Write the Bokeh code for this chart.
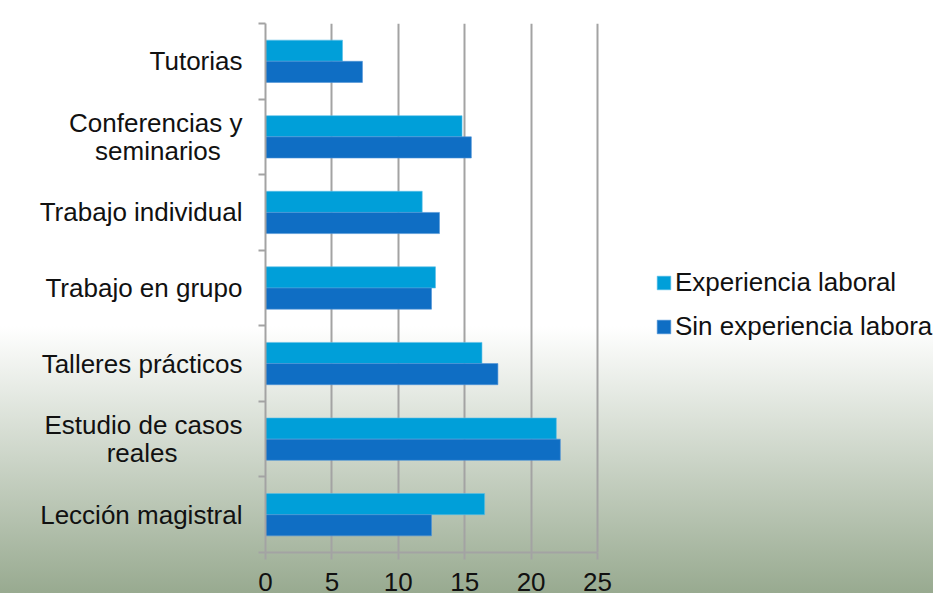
from bokeh.plotting import figure
from bokeh.models import Range1d, FixedTicker, ColumnDataSource, Legend, LegendItem
from bokeh.embed import file_html
from bokeh.resources import INLINE

NB = "\u00a0"
categories = ["Tutorias", "Conferencias y\nseminarios" + NB * 3, "Trabajo individual",
              "Trabajo en grupo", "Talleres prácticos", "Estudio de casos\nreales" + NB * 9,
              "Lección magistral"]
experiencia = [5.8, 14.8, 11.8, 12.8, 16.3, 21.9, 16.5]
sin_experiencia = [7.3, 15.5, 13.1, 12.5, 17.5, 22.2, 12.5]
series_names = ["Experiencia laboral", "Sin experiencia laboral"]
x_ticks = [0, 5, 10, 15, 20, 25]

n = len(categories)
centers = [n - i - 0.5 for i in range(n)]
bar_h = 0.28

src = ColumnDataSource(dict(
    cat=categories,
    yc=centers,
    y_exp=[c + bar_h / 2 for c in centers],
    y_sin=[c - bar_h / 2 for c in centers],
    exp=experiencia,
    sin=sin_experiencia,
))

FONT = "Liberation Sans"
GRAY = "#a3a3a3"
TXT = "#111111"

W, H = 933, 593
LEFT = 265
AXIS_PX = 332          # pixel length of the 0..25 value axis
x_max = x_ticks[-1]
x_end = x_max * (W - LEFT) / AXIS_PX   # frame extends to the right edge, legend lives there

p = figure(width=W, height=H, output_backend="svg", toolbar_location=None,
           x_range=Range1d(0, x_end), y_range=Range1d(0, n),
           min_border_left=LEFT, min_border_right=0, min_border_top=23,
           min_border_bottom=41)
p.styles = {"background-image": "linear-gradient(to bottom, #ffffff 0%, #ffffff 55%, #98aa90 100%)"}
p.border_fill_color = None
p.background_fill_color = None
p.outline_line_color = None

r_exp = p.hbar(y="y_exp", right="exp", left=0, height=bar_h, source=src,
               fill_color="#009fd9", line_color="#5cc0e8", line_width=0.6)
r_sin = p.hbar(y="y_sin", right="sin", left=0, height=bar_h, source=src,
               fill_color="#0f6ec4", line_color="#4f93d6", line_width=0.6)

# x axis
xa = p.xaxis[0]
xa.ticker = FixedTicker(ticks=x_ticks)
xa.bounds = (0, x_max)
xa.axis_line_color = GRAY
xa.axis_line_width = 2
xa.major_tick_line_color = GRAY
xa.major_tick_line_width = 2
xa.major_tick_out = 7
xa.major_tick_in = 0
xa.minor_tick_line_color = None
xa.major_label_text_font = FONT
xa.major_label_text_font_size = "26px"
xa.major_label_text_color = TXT
xa.major_label_standoff = 13

# y axis
ya = p.yaxis[0]
ya.ticker = FixedTicker(ticks=centers, minor_ticks=list(range(n + 1)))
ya.major_label_overrides = {c: lab for c, lab in zip(centers, categories)}
ya.axis_line_color = GRAY
ya.axis_line_width = 2
ya.major_tick_line_color = None
ya.major_tick_out = 0
ya.major_tick_in = 0
ya.minor_tick_line_color = GRAY
ya.minor_tick_line_width = 2
ya.minor_tick_out = 7
ya.minor_tick_in = 0
ya.major_label_text_font = FONT
ya.major_label_text_font_size = "26px"
ya.major_label_text_color = TXT
ya.major_label_text_line_height = 0.95
ya.major_label_standoff = 16

p.xgrid.ticker = FixedTicker(ticks=x_ticks[1:])
p.xgrid.grid_line_color = GRAY
p.xgrid.grid_line_width = 2
p.ygrid.grid_line_color = None

lg = Legend(items=[LegendItem(label=series_names[0], renderers=[r_exp]),
                   LegendItem(label=series_names[1], renderers=[r_sin])],
            location=(390, 210), orientation="vertical")
lg.background_fill_alpha = 0
lg.border_line_color = None
lg.margin = 0
lg.padding = 0
lg.glyph_width = 17
lg.glyph_height = 17
lg.label_height = 26
lg.label_standoff = 3
lg.spacing = 13
lg.label_text_font = FONT
lg.label_text_font_size = "26px"
lg.label_text_color = TXT
p.add_layout(lg, "center")

open("out.html", "w").write(file_html(p, INLINE))
